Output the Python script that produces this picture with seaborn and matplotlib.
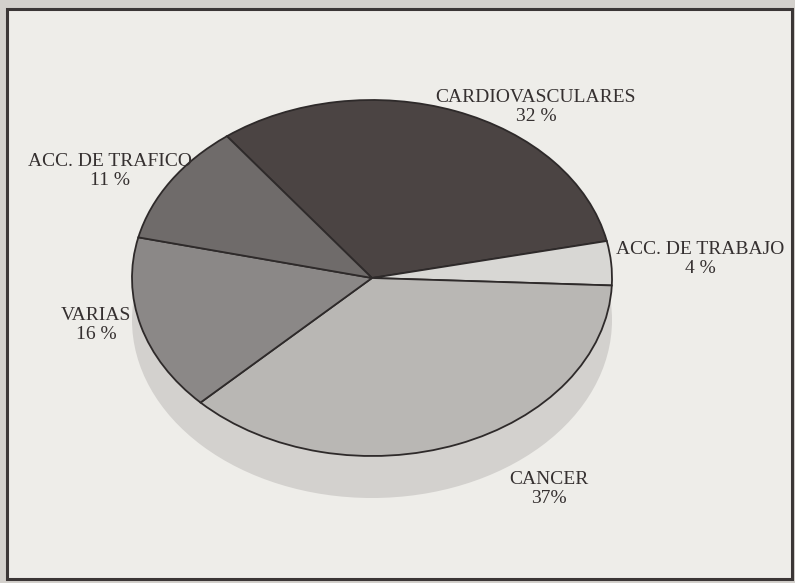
import matplotlib
matplotlib.use("Agg")
import matplotlib.pyplot as plt
import seaborn as sns
from matplotlib.patches import Rectangle, Ellipse

# ---- data ----
categories = ["CARDIOVASCULARES", "ACC. DE TRABAJO", "CANCER", "VARIAS", "ACC. DE TRAFICO"]
values = [32, 4, 37, 16, 11]
value_labels = ["32 %", "4 %", "37%", "16 %", "11 %"]

# ---- layout / style ----
colors = ["#4b4443", "#d8d7d4", "#b9b7b4", "#8b8887", "#6f6b6a"]
label_pos_px = [(536, 107), (700, 259), (549, 489), (96, 325), (110, 171)]

sns.set_theme(style="white")
plt.rcParams['font.family'] = ['Liberation Serif', 'DejaVu Serif']

W, H = 795, 583
fig = plt.figure(figsize=(W / 100, H / 100), dpi=100, facecolor="#d3d0cc")

# panel background with dark frame
fig.add_artist(Rectangle((7 / W, 1 - 579 / H), (792 - 7) / W, (579 - 9) / H,
                         transform=fig.transFigure, facecolor="#eeede9",
                         edgecolor="#3b3636", linewidth=2.2, zorder=-5))

ax = fig.add_axes([0, 0, 1, 1])
cx, cy, rx, ry = 372, 278, 240, 178

# shadow (pie thickness)
ax.add_patch(Ellipse((0, -42 / ry), 2, 2, facecolor="#d3d1ce", edgecolor="none", zorder=0))

ax.pie(values, colors=colors, startangle=127.2, counterclock=False,
       wedgeprops=dict(edgecolor="#2e2a2a", linewidth=1.3, zorder=2))

ax.set_aspect('auto')
ax.set_xlim(-cx / rx, (W - cx) / rx)
ax.set_ylim(-(H - cy) / ry, cy / ry)
ax.axis('off')

for cat, val, (px, py) in zip(categories, value_labels, label_pos_px):
    fig.text(px / W, 1 - py / H, f"{cat}\n{val}", ha="center", va="center",
             fontsize=14, color="#353030", linespacing=1.2)

fig.savefig("out.png", dpi=100, facecolor=fig.get_facecolor())
